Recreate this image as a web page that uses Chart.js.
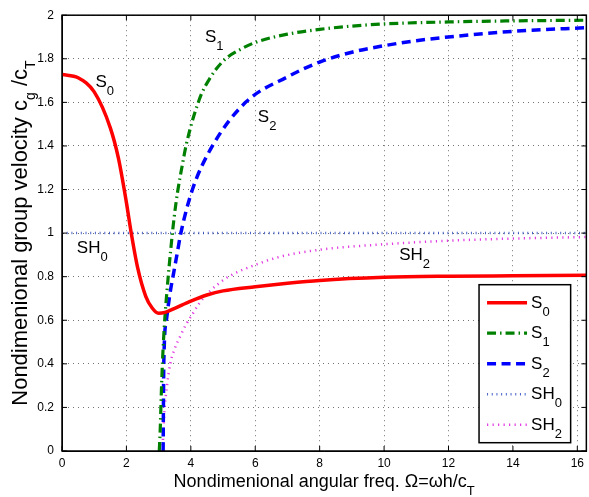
<!DOCTYPE html>
<html>
<head>
<meta charset="utf-8">
<title>Group velocity dispersion curves</title>
<script src="https://cdn.jsdelivr.net/npm/chart.js@4.4.1/dist/chart.umd.min.js"></script>
<style>
  html, body { margin: 0; padding: 0; background: #fff; }
  #wrap { width: 589px; height: 497px; }
</style>
</head>
<body>
<div id="wrap"><canvas id="dispersionChart" width="589" height="497"></canvas></div>
<script>
// Tick positions for both axes
const xTicks = [0, 2, 4, 6, 8, 10, 12, 14, 16];
const yTicks = [0, 0.2, 0.4, 0.6, 0.8, 1, 1.2, 1.4, 1.6, 1.8, 2];
const xMax = 16.28;

// Mode names (underscore marks a subscript)
const seriesNames = ['S_0', 'S_1', 'S_2', 'SH_0', 'SH_2'];

// S0 mode
const s0X = [0, 0.5, 1.0, 1.5, 1.75, 2.0, 2.15, 2.35, 2.6, 2.8, 3.0, 3.2, 3.5, 4.0, 4.5, 5.0, 6.0, 7.0, 8.0, 10, 12, 14, 16.28];
const s0Y = [1.728, 1.713, 1.648, 1.483, 1.345, 1.14, 1.0, 0.84, 0.71, 0.656, 0.632, 0.636, 0.655, 0.688, 0.716, 0.735, 0.754, 0.77, 0.783, 0.797, 0.802, 0.804, 0.806];

// S1 mode
const s1X = [3.02, 3.05, 3.08, 3.12, 3.18, 3.28, 3.38, 3.48, 3.59, 3.72, 3.85, 4.0, 4.15, 4.35, 4.57, 4.8, 5.08, 5.5, 6.0, 7.0, 8.0, 9.0, 10, 12, 14, 16.28];
const s1Y = [0, 0.1, 0.25, 0.41, 0.58, 0.77, 0.93, 1.07, 1.19, 1.30, 1.4, 1.49, 1.565, 1.645, 1.705, 1.755, 1.80, 1.84, 1.875, 1.913, 1.935, 1.95, 1.96, 1.969, 1.974, 1.977];

// S2 mode
const s2X = [3.14, 3.15, 3.16, 3.25, 3.35, 3.47, 3.58, 3.69, 4.05, 4.67, 5.70, 7.04, 8.0, 9.0, 10, 11, 12, 14, 16.28];
const s2Y = [0, 0.229, 0.40, 0.61, 0.72, 0.82, 0.91, 1.0, 1.2, 1.4, 1.6, 1.72, 1.785, 1.83, 1.86, 1.883, 1.90, 1.926, 1.943];

// SH0 mode (non-dispersive)
const sh0X = [0, 16.28];
const sh0Y = [1, 1];

// SH2 mode
const sh2X = [3.12, 3.15, 3.19, 3.26, 3.36, 3.5, 3.65, 3.85, 4.05, 4.26, 4.6, 4.82, 5.18, 6.0, 6.73, 8.07, 9.72, 11.98, 14.0, 16.28];
const sh2Y = [0, 0.1, 0.2, 0.3, 0.4, 0.47, 0.52, 0.58, 0.628, 0.677, 0.735, 0.763, 0.801, 0.854, 0.89, 0.925, 0.946, 0.965, 0.975, 0.982];

// Curve labels placed in data coordinates
const curveLabels = [
    { text: 'S_0', x: 1.04, y: 1.672 },
    { text: 'S_1', x: 4.44, y: 1.878 },
    { text: 'S_2', x: 6.08, y: 1.509 },
    { text: 'SH_0', x: 0.46, y: 0.907 },
    { text: 'SH_2', x: 10.47, y: 0.876 }
];

const xTitle = 'Nondimenional angular freq. \u03A9=\u03C9h/c_T';
const yTitle = 'Nondimenional group velocity c_g /c_T';

const FONT = '"Liberation Sans", Arial, Helvetica, sans-serif';

function toPoints(xs, ys) {
    return xs.map((x, i) => ({ x: x, y: ys[i] }));
}

// Split "SH_2" style strings into normal and subscript pieces
function parseLabel(str) {
    const parts = [];
    let buf = '';
    for (let i = 0; i < str.length; i++) {
        if (str[i] === '_' && i + 1 < str.length) {
            if (buf) parts.push({ text: buf, sub: false });
            parts.push({ text: str[i + 1], sub: true });
            buf = '';
            i++;
        } else {
            buf += str[i];
        }
    }
    if (buf) parts.push({ text: buf, sub: false });
    return parts;
}

function richWidth(ctx, parts, size, subSize) {
    let w = 0;
    parts.forEach(p => {
        ctx.font = (p.sub ? subSize : size) + 'px ' + FONT;
        w += ctx.measureText(p.text).width;
    });
    return w;
}

function drawRich(ctx, parts, x, y, size, subSize, subDrop) {
    let cx = x;
    parts.forEach(p => {
        ctx.font = (p.sub ? subSize : size) + 'px ' + FONT;
        ctx.fillText(p.text, cx, p.sub ? y + subDrop : y);
        cx += ctx.measureText(p.text).width;
    });
}

// Box, inner ticks, curve labels, legend and axis titles
const framePlugin = {
    id: 'frame',
    afterDraw(chart) {
        const { ctx, chartArea: a, scales: { x, y } } = chart;
        ctx.save();

        ctx.strokeStyle = '#000';
        ctx.lineWidth = 1.5;
        ctx.setLineDash([]);
        ctx.strokeRect(a.left, a.top, a.right - a.left, a.bottom - a.top);

        ctx.lineWidth = 1;
        ctx.beginPath();
        xTicks.forEach(v => {
            const px = x.getPixelForValue(v);
            ctx.moveTo(px, a.bottom); ctx.lineTo(px, a.bottom - 5);
            ctx.moveTo(px, a.top); ctx.lineTo(px, a.top + 5);
        });
        yTicks.forEach(v => {
            const py = y.getPixelForValue(v);
            ctx.moveTo(a.left, py); ctx.lineTo(a.left + 5, py);
            ctx.moveTo(a.right, py); ctx.lineTo(a.right - 5, py);
        });
        ctx.stroke();

        ctx.fillStyle = '#000';
        ctx.textBaseline = 'alphabetic';
        ctx.textAlign = 'left';
        curveLabels.forEach(l => {
            drawRich(ctx, parseLabel(l.text), x.getPixelForValue(l.x), y.getPixelForValue(l.y), 17, 13, 8);
        });

        // legend
        const lw = 91.6, lh = 158;
        const lx = a.right - 107.3;
        const ly = a.bottom - 8.3 - lh;
        ctx.fillStyle = '#fff';
        ctx.fillRect(lx, ly, lw, lh);
        ctx.strokeStyle = '#000';
        ctx.lineWidth = 1.5;
        ctx.strokeRect(lx, ly, lw, lh);
        chart.data.datasets.forEach((ds, i) => {
            const rowY = ly + 18 + i * 30.5;
            ctx.save();
            ctx.strokeStyle = ds.borderColor;
            ctx.lineWidth = ds.borderWidth;
            ctx.setLineDash(ds.borderDash || []);
            ctx.beginPath();
            ctx.moveTo(lx + 8, rowY);
            ctx.lineTo(lx + 48, rowY);
            ctx.stroke();
            ctx.restore();
            ctx.fillStyle = '#000';
            drawRich(ctx, parseLabel(ds.label), lx + 52, rowY + 5, 17, 13, 8);
        });

        // axis titles
        ctx.fillStyle = '#000';
        const xParts = parseLabel(xTitle);
        const xw = richWidth(ctx, xParts, 18, 13);
        drawRich(ctx, xParts, (a.left + a.right) / 2 - xw / 2, 487, 18, 13, 8);

        const yParts = parseLabel(yTitle);
        const yw = richWidth(ctx, yParts, 22, 14);
        ctx.translate(27, (a.top + a.bottom) / 2);
        ctx.rotate(-Math.PI / 2);
        drawRich(ctx, yParts, -yw / 2, 0, 22, 14, 8);

        ctx.restore();
    }
};

function createChart() {
    const ctx = document.getElementById('dispersionChart').getContext('2d');
    const line = { pointRadius: 0, fill: false, cubicInterpolationMode: 'monotone' };

    return new Chart(ctx, {
        type: 'line',
        data: {
            datasets: [
                Object.assign({ label: seriesNames[0], data: toPoints(s0X, s0Y), borderColor: '#ff0000', borderWidth: 3.5 }, line),
                Object.assign({ label: seriesNames[1], data: toPoints(s1X, s1Y), borderColor: '#008000', borderWidth: 3.2, borderDash: [9, 4, 1.5, 4] }, line),
                Object.assign({ label: seriesNames[2], data: toPoints(s2X, s2Y), borderColor: '#0000ff', borderWidth: 3.5, borderDash: [9, 5.5] }, line),
                Object.assign({ label: seriesNames[3], data: toPoints(sh0X, sh0Y), borderColor: 'rgba(40,70,190,0.85)', borderWidth: 2.5, borderDash: [1, 3.7] }, line),
                Object.assign({ label: seriesNames[4], data: toPoints(sh2X, sh2Y), borderColor: '#e23be2', borderWidth: 2.5, borderDash: [1.2, 4.3] }, line)
            ]
        },
        options: {
            responsive: false,
            animation: false,
            devicePixelRatio: 1,
            layout: { padding: { top: 8, right: 0, left: 0, bottom: 0 } },
            plugins: {
                legend: { display: false },
                tooltip: { enabled: false }
            },
            scales: {
                x: {
                    type: 'linear',
                    min: 0,
                    max: xMax,
                    afterBuildTicks: scale => { scale.ticks = xTicks.map(v => ({ value: v })); },
                    afterFit: scale => { scale.height = 46; },
                    ticks: {
                        color: '#000',
                        padding: 5,
                        maxRotation: 0,
                        font: { family: FONT, size: 12 },
                        callback: v => String(v)
                    },
                    grid: { color: 'rgba(0,0,0,0.55)', lineWidth: 1, drawTicks: false },
                    border: { display: true, color: '#000', width: 1, dash: [1, 4] }
                },
                y: {
                    type: 'linear',
                    min: 0,
                    max: 2,
                    afterBuildTicks: scale => { scale.ticks = yTicks.map(v => ({ value: v })); },
                    afterFit: scale => { scale.width = 62; },
                    ticks: {
                        color: '#000',
                        padding: 8,
                        font: { family: FONT, size: 12 },
                        callback: v => String(Math.round(v * 10) / 10)
                    },
                    grid: { color: 'rgba(0,0,0,0.55)', lineWidth: 1, drawTicks: false },
                    border: { display: true, color: '#000', width: 1, dash: [1, 4] }
                }
            }
        },
        plugins: [framePlugin]
    });
}

document.addEventListener('DOMContentLoaded', createChart);
</script>
</body>
</html>
